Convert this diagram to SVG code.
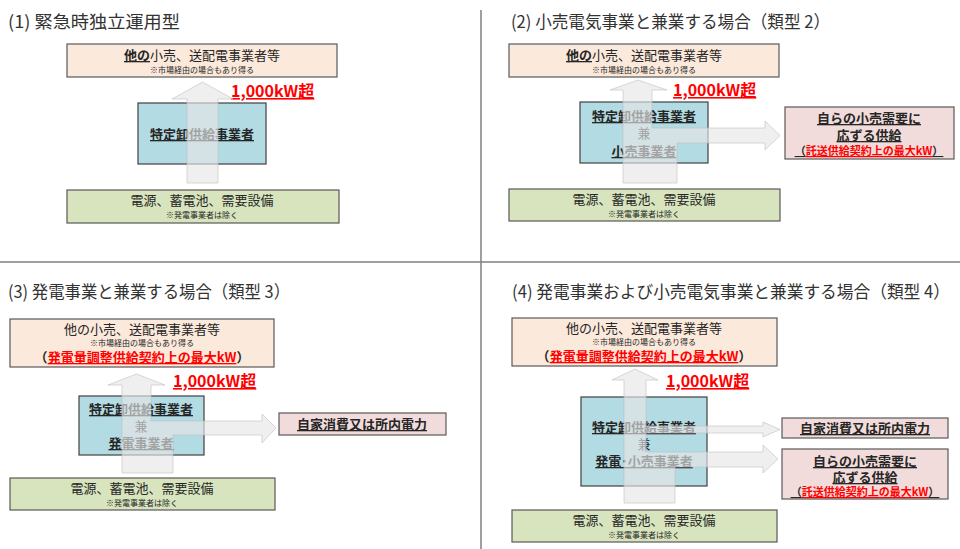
<svg xmlns="http://www.w3.org/2000/svg" width="960" height="549" viewBox="0 0 960 549">
<style>
text{font-family:"Noto Sans CJK JP","Noto Sans",sans-serif;fill:#262626;text-anchor:middle}
.t{font-size:17.5px;text-anchor:start;fill:#333}
.m{font-size:13px}
.b{font-size:13px;font-weight:bold;text-decoration:underline}
.s{font-size:8px}
.r{fill:#ff0000;font-weight:bold;text-decoration:underline}
.kw{font-size:16px;font-weight:bold;fill:#ff0000;text-decoration:underline;text-anchor:start}
.top{fill:#fbe9db;stroke:#595959;stroke-width:1.2}
.bot{fill:#d7e4bd;stroke:#595959;stroke-width:1.2}
.mid{fill:#b3dbe3;stroke:#404040;stroke-width:1.2}
.pk{fill:#f2dcdb;stroke:#595959;stroke-width:1.2}
.ar{fill:#e6e6e6;fill-opacity:0.65;stroke:#bfbfbf;stroke-opacity:0.6;stroke-width:1}
.dv{stroke:#7f7f7f;stroke-width:1.5}
</style>
<rect width="960" height="549" fill="#fff"/>
<line class="dv" x1="481" y1="10" x2="481" y2="549"/>
<line class="dv" x1="0" y1="262" x2="960" y2="262"/>

<text class="t" x="8" y="28" textLength="172" lengthAdjust="spacingAndGlyphs">(1) 緊急時独立運用型</text>
<text class="t" x="511" y="28" textLength="319" lengthAdjust="spacingAndGlyphs">(2) 小売電気事業と兼業する場合（類型 2）</text>
<text class="t" x="8" y="298" textLength="282" lengthAdjust="spacingAndGlyphs">(3) 発電事業と兼業する場合（類型 3）</text>
<text class="t" x="512" y="298" textLength="438" lengthAdjust="spacingAndGlyphs">(4) 発電事業および小売電気事業と兼業する場合（類型 4）</text>

<!-- Panel 1 -->
<g id="p1-top"><rect class="top" x="67" y="44" width="270" height="33"/>
<text class="m" x="202" y="60"><tspan font-weight="bold" text-decoration="underline">他の</tspan>小売、送配電事業者等</text>
<text class="s" x="202" y="73">※市場経由の場合もあり得る</text></g>
<g id="p1-mid"><rect class="mid" x="138" y="103" width="128" height="61"/>
<text class="b" x="202" y="139">特定卸供給事業者</text></g>
<g id="p1-bot"><rect class="bot" x="67" y="190" width="272" height="33"/>
<text class="m" x="202" y="205">電源、蓄電池、需要設備</text>
<text class="s" x="202" y="218">※発電事業者は除く</text></g>
<text class="kw" x="231" y="97">1,000kW超</text>

<!-- Panel 2 -->
<g id="p2-top"><rect class="top" x="509" y="44" width="270" height="33"/>
<text class="m" x="644" y="60"><tspan font-weight="bold" text-decoration="underline">他の</tspan>小売、送配電事業者等</text>
<text class="s" x="644" y="73">※市場経由の場合もあり得る</text></g>
<g id="p2-mid"><rect class="mid" x="580" y="102" width="128" height="61"/>
<text class="b" x="644" y="121">特定卸供給事業者</text>
<text class="m" x="644" y="138">兼</text>
<text class="b" x="644" y="156">小売事業者</text></g>
<g id="p2-right"><rect class="pk" x="785" y="107" width="169" height="52"/>
<text class="b" x="869" y="123">自らの小売需要に</text>
<text class="b" x="869" y="140">応ずる供給</text>
<text x="869" y="155" font-size="11" font-weight="bold" text-decoration="underline">（<tspan class="r">託送供給契約上の最大kW</tspan>）</text></g>
<g id="p2-bot"><rect class="bot" x="509" y="189" width="271" height="32"/>
<text class="m" x="644" y="204">電源、蓄電池、需要設備</text>
<text class="s" x="644" y="217">※発電事業者は除く</text></g>
<text class="kw" x="673" y="96">1,000kW超</text>

<!-- Panel 3 -->
<g id="p3-top"><rect class="top" x="10" y="319" width="264" height="48"/>
<text class="m" x="142" y="334">他の小売、送配電事業者等</text>
<text class="s" x="142" y="346">※市場経由の場合もあり得る</text>
<text x="142" y="362" font-size="13" font-weight="bold">（<tspan class="r">発電量調整供給契約上の最大kW</tspan>）</text></g>
<g id="p3-mid"><rect class="mid" x="79" y="396" width="125" height="59"/>
<text class="b" x="141" y="414">特定卸供給事業者</text>
<text class="m" x="141" y="431">兼</text>
<text class="b" x="141" y="448">発電事業者</text></g>
<g id="p3-right"><rect class="pk" x="279" y="413" width="167" height="22"/>
<text class="b" x="362" y="429">自家消費又は所内電力</text></g>
<g id="p3-bot"><rect class="bot" x="10" y="478" width="265" height="32"/>
<text class="m" x="142" y="493">電源、蓄電池、需要設備</text>
<text class="s" x="142" y="506">※発電事業者は除く</text></g>
<text class="kw" x="173" y="387">1,000kW超</text>

<!-- Panel 4 -->
<g id="p4-top"><rect class="top" x="512" y="318" width="265" height="48"/>
<text class="m" x="644" y="333">他の小売、送配電事業者等</text>
<text class="s" x="644" y="345">※市場経由の場合もあり得る</text>
<text x="644" y="361" font-size="13" font-weight="bold">（<tspan class="r">発電量調整供給契約上の最大kW</tspan>）</text></g>
<g id="p4-mid"><rect class="mid" x="581" y="397" width="126" height="89"/>
<text class="b" x="644" y="432">特定卸供給事業者</text>
<text class="m" x="644" y="449">兼</text>
<text class="b" x="644" y="466">発電･小売事業者</text></g>
<g id="p4-right1"><rect class="pk" x="782" y="418" width="166" height="20"/>
<text class="b" x="865" y="433">自家消費又は所内電力</text></g>
<g id="p4-right2"><rect class="pk" x="782" y="449" width="166" height="50"/>
<text class="b" x="865" y="466">自らの小売需要に</text>
<text class="b" x="865" y="482">応ずる供給</text>
<text x="865" y="496" font-size="11" font-weight="bold" text-decoration="underline">（<tspan class="r">託送供給契約上の最大kW</tspan>）</text></g>
<g id="p4-bot"><rect class="bot" x="512" y="510" width="265" height="32"/>
<text class="m" x="644" y="525">電源、蓄電池、需要設備</text>
<text class="s" x="644" y="538">※発電事業者は除く</text></g>
<text class="kw" x="666" y="387">1,000kW超</text>

<g id="connectors">
<polygon class="ar" points="187,183 218,183 218,99 233,99 202.5,82 172,99 187,99"/>
<polygon class="ar" points="623,183 677,183 677,143 765,143 765,150 780,135.5 765,121 765,128 652,128 652,90 667,90 638,80 610,90 623,90"/>
<polygon class="ar" points="122,473 173,473 173,435 262,435 262,443 276,428 262,414 262,421 151,421 151,385 165,385 136.5,374 108,385 122,385"/>
<polygon class="ar" points="624,503 675,503 675,467 763,467 763,473 778,459 763,445 763,452 646,452 646,433 763,433 763,437 780,429.5 763,422 763,426 646,426 646,380 658,380 635,369 612,380 624,380"/>
</g>
</svg>
